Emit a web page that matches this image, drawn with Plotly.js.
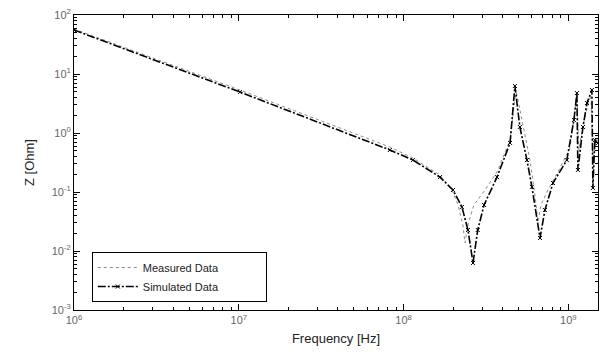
<!DOCTYPE html>
<html>
<head>
<meta charset="utf-8">
<script src="https://cdn.plot.ly/plotly-3.0.1.min.js"></script>
<style>html,body{margin:0;padding:0;background:#fff;}#chart{width:614px;height:356px;}</style>
</head>
<body>
<div id="chart"></div>
<script>
// Measured data (frequency in Hz, impedance in Ohm)
const measuredFreq = [1.0e6, 1.016e7, 8.26e7, 1.14e8, 1.663e8, 1.967e8, 2.14e8, 2.29e8, 2.36e8, 2.46e8, 2.67e8, 3.12e8, 3.69e8, 4.43e8, 4.81e8, 5.15e8, 5.85e8, 6.27e8, 6.54e8, 6.82e8, 7.52e8, 8.89e8, 1.023e9, 1.097e9, 1.127e9, 1.159e9, 1.227e9, 1.315e9, 1.371e9, 1.409e9, 1.469e9, 1.514e9];
const measuredZ = [57.9, 5.36, 0.579, 0.377, 0.194, 0.108, 0.0603, 0.0276, 0.0137, 0.0276, 0.0603, 0.108, 0.218, 0.760, 5.36, 2.02, 0.348, 0.0889, 0.0310, 0.0603, 0.108, 0.255, 0.557, 2.45, 4.41, 0.515, 1.368, 2.99, 4.41, 0.348, 0.760, 0.760];

// Simulated data
const simulatedFreq = [1.0e6, 1.016e7, 8.26e7, 1.14e8, 1.663e8, 1.995e8, 2.26e8, 2.46e8, 2.64e8, 2.82e8, 3.08e8, 3.69e8, 4.43e8, 4.74e8, 5.08e8, 5.61e8, 6.01e8, 6.73e8, 7.21e8, 8.07e8, 9.79e8, 1.081e9, 1.127e9, 1.143e9, 1.227e9, 1.297e9, 1.390e9, 1.409e9, 1.449e9, 1.514e9];
const simulatedZ = [55.7, 4.95, 0.515, 0.348, 0.179, 0.108, 0.0557, 0.0227, 0.00627, 0.0227, 0.0603, 0.179, 0.678, 6.27, 1.265, 0.348, 0.122, 0.0166, 0.0495, 0.142, 0.348, 1.66, 4.76, 0.236, 1.265, 3.22, 5.36, 0.117, 0.760, 0.678];

const seriesNames = ["Measured Data", "Simulated Data"];

// Tick labels
const xTickVals = [1e6, 1e7, 1e8, 1e9];
const xTickText = ["10<sup>6</sup>", "10<sup>7</sup>", "10<sup>8</sup>", "10<sup>9</sup>"];
const yTickVals = [1e-3, 1e-2, 1e-1, 1, 10, 100];
const yTickText = ["10<sup>-3</sup>", "10<sup>-2</sup>", "10<sup>-1</sup>", "10<sup>0</sup>", "10<sup>1</sup>", "10<sup>2</sup>"];

// minor tick positions (2..9 within each decade)
function minorTicks(lo, hi) {
  const out = [];
  for (let e = lo; e <= hi; e++) for (let m = 2; m <= 9; m++) out.push(m * Math.pow(10, e));
  return out;
}
const xMinor = minorTicks(6, 9);
const yMinor = minorTicks(-3, 1);

const font = "Liberation Sans, Arial, Helvetica, sans-serif";
const pad = "\u00a0".repeat(14);

const traces = [
  {
    x: measuredFreq, y: measuredZ, type: "scatter", mode: "lines",
    name: seriesNames[0] + pad,
    line: {color: "#8a8a8a", width: 1, dash: "dot"}
  },
  {
    x: simulatedFreq, y: simulatedZ, type: "scatter", mode: "lines+markers",
    name: seriesNames[1] + pad,
    line: {color: "#000000", width: 1.6, dash: "8px,2px,2px,2px"},
    marker: {symbol: "x-thin", size: 4, color: "#000", line: {color: "#000", width: 1}}
  },
  {x: [], y: [], xaxis: "x2", yaxis: "y2", showlegend: false, hoverinfo: "skip", type: "scatter"}
];

const xRange = [6, 9.18];
const yRange = [-3, 2];

const axisCommon = {
  type: "log",
  showline: true, linecolor: "#000", linewidth: 1,
  mirror: "ticks",
  ticks: "inside", ticklen: 6, tickcolor: "#000", tickwidth: 1,
  showgrid: false, zeroline: false,
  tickmode: "array",
  tickfont: {family: font, size: 11, color: "#666"}
};

const minorCommon = {
  type: "log", showline: false, mirror: "ticks",
  ticks: "inside", ticklen: 3, tickcolor: "#000", tickwidth: 1,
  showgrid: false, zeroline: false, showticklabels: false,
  tickmode: "array"
};

const layout = {
  width: 614, height: 356,
  margin: {l: 74, r: 16, t: 15, b: 46},
  paper_bgcolor: "#fff", plot_bgcolor: "#fff",
  showlegend: true,
  font: {family: font, color: "#222"},
  xaxis: Object.assign({}, axisCommon, {
    range: xRange, tickvals: xTickVals, ticktext: xTickText,
    title: {text: "Frequency [Hz]", font: {family: font, size: 13, color: "#222"}, standoff: 8}
  }),
  yaxis: Object.assign({}, axisCommon, {
    range: yRange, tickvals: yTickVals, ticktext: yTickText,
    title: {text: "Z [Ohm]", font: {family: font, size: 13, color: "#222"}, standoff: 14}
  }),
  xaxis2: Object.assign({}, minorCommon, {range: xRange, tickvals: xMinor, overlaying: "x", anchor: "y2", side: "bottom"}),
  yaxis2: Object.assign({}, minorCommon, {range: yRange, tickvals: yMinor, overlaying: "y", anchor: "x2", side: "left"}),
  legend: {
    x: 0.034, y: 0.027, xanchor: "left", yanchor: "bottom",
    bgcolor: "#fff", bordercolor: "#000", borderwidth: 1,
    font: {family: font, size: 11, color: "#222"},
    itemwidth: 40, tracegroupgap: 0
  }
};

Plotly.newPlot("chart", traces, layout, {displayModeBar: false, staticPlot: true});
</script>
</body>
</html>
